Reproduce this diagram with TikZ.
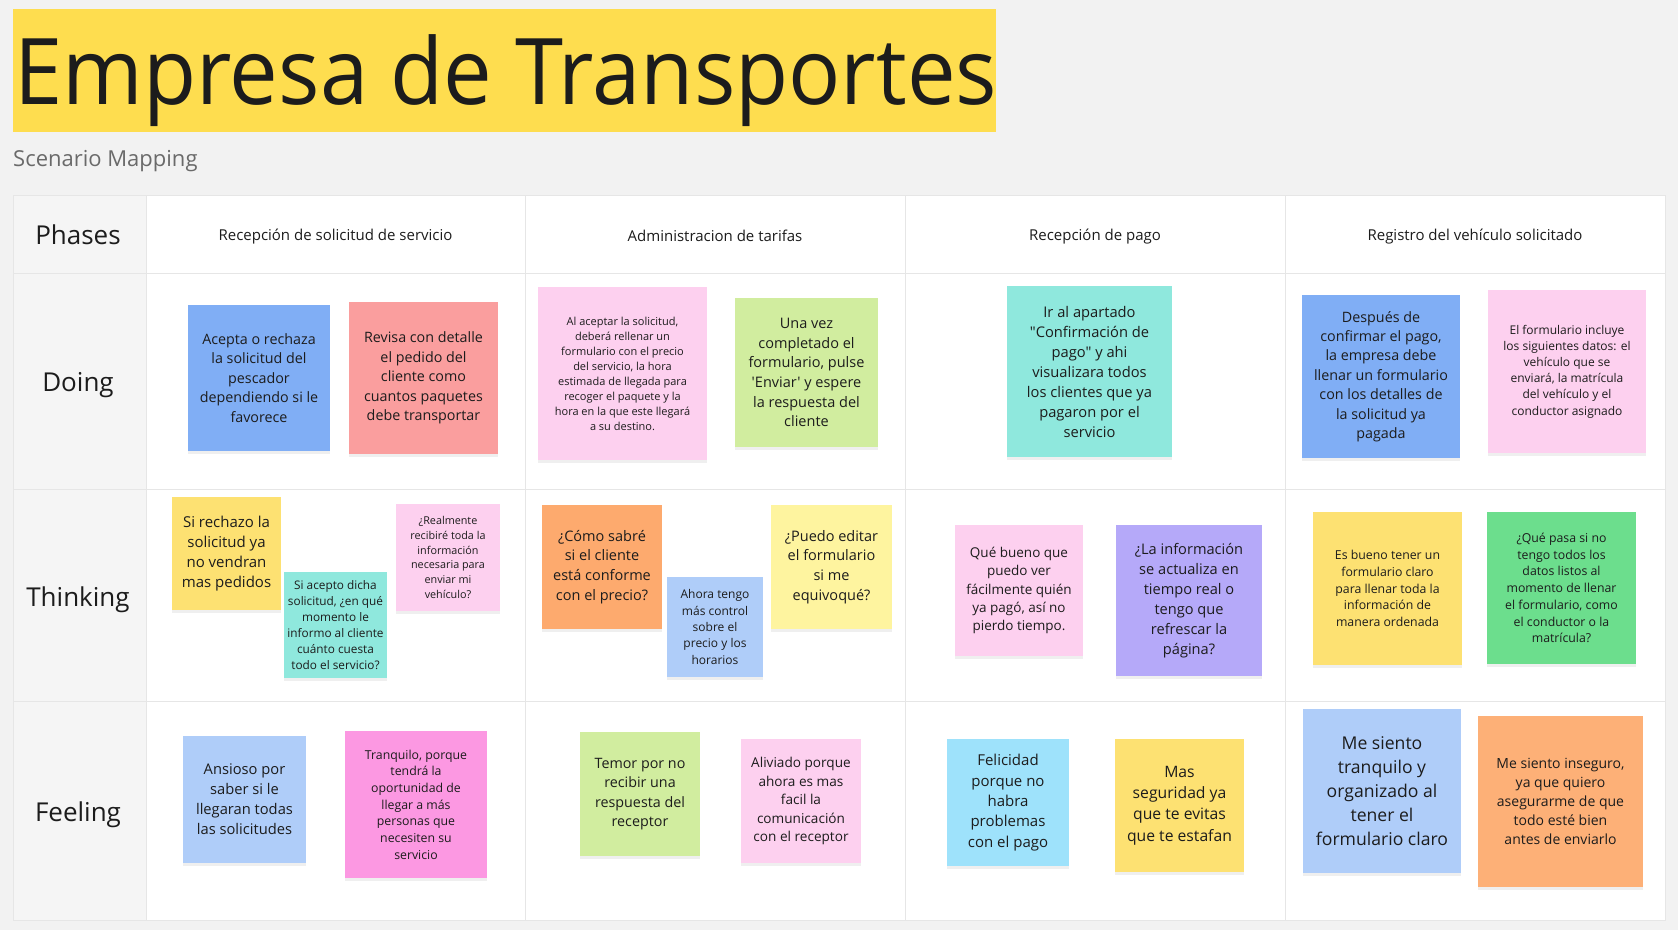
\documentclass[tikz,border=0pt]{standalone}
\usepackage{fontspec}
\setmainfont{Open Sans}[Ligatures=TeXOff]
\usepackage{tikz}
\usetikzlibrary{shadows}

\definecolor{canvas}{HTML}{F2F2F2}
\definecolor{phasecol}{HTML}{F5F5F5}
\definecolor{gridline}{HTML}{E6E6E6}
\definecolor{inkdark}{HTML}{1C1C1C}
\definecolor{inkgrey}{HTML}{6A6A6A}
\definecolor{titleyellow}{HTML}{FEDD4F}
\definecolor{noteblue}{HTML}{80AEF5}
\definecolor{notered}{HTML}{FA9E9E}
\definecolor{notepink}{HTML}{FDD0EF}
\definecolor{notegreen}{HTML}{D1ED9F}
\definecolor{noteteal}{HTML}{8FE8DD}
\definecolor{noteyellow}{HTML}{FDE172}
\definecolor{noteorange}{HTML}{FDAA6E}
\definecolor{notelightblue}{HTML}{AFCDF9}
\definecolor{notelemon}{HTML}{FEF49F}
\definecolor{notepurple}{HTML}{B5A9F9}
\definecolor{notemint}{HTML}{6CDE8D}
\definecolor{notemagenta}{HTML}{FC98E2}
\definecolor{notesky}{HTML}{9EE2FB}
\definecolor{notepeach}{HTML}{FDB077}

\tikzset{
  sticky/.style={align=center, inner sep=0pt, text=inkdark,
    drop shadow={shadow xshift=0pt, shadow yshift=-3pt, opacity=0.12}},
  sz/.style 2 args={font=\fontsize{#1}{#2}\selectfont},
  phaselabel/.style={text=inkdark, font=\fontsize{26}{30}\selectfont},
  colhead/.style={text=inkdark, font=\fontsize{15}{18}\selectfont},
}

\begin{document}
\begin{tikzpicture}[x=1pt, y=-1pt]
  \useasboundingbox[fill=canvas] (0,0) rectangle (1678,930);

  % Title
  \node[fill=titleyellow, minimum width=983, minimum height=123, inner sep=0, anchor=north west] (titlebar) at (13,9) {};
  \node[anchor=base west, inner sep=0, text=inkdark, font=\fontsize{92}{100}\selectfont] (title) at (14,104) {\scalebox{0.943}[1]{Empresa de Transportes}};
  \node[anchor=base west, inner sep=0, text=inkgrey, font=\fontsize{22}{26}\selectfont] (subtitle) at (13,166) {Scenario Mapping};

  % Table
  \fill[white] (146,195) rectangle (1665,920);
  \fill[phasecol] (13,195) rectangle (146,920);
  \draw[gridline, line width=1pt] (13,195) rectangle (1665,920);
  \foreach \x in {146,525,905,1285}
    \draw[gridline, line width=1pt] (\x,195) -- (\x,920);
  \foreach \y in {273,489,701}
    \draw[gridline, line width=1pt] (13,\y) -- (1665,\y);

  % Phase column
  \node[phaselabel] (phases) at (78,235) {Phases};
  \node[phaselabel] (doing) at (78,385) {Doing};
  \node[phaselabel] (thinking) at (78,600) {Thinking};
  \node[phaselabel] (feeling) at (78,815) {Feeling};

  % Column headers
  \node[colhead] (hRecepcion) at (335.5,237) {Recepción de solicitud de servicio};
  \node[colhead] (hTarifas) at (715,236) {Administracion de tarifas};
  \node[colhead] (hPago) at (1095,237) {Recepción de pago};
  \node[colhead] (hRegistro) at (1475,237) {Registro del vehículo solicitado};

  % Doing
  \node[sticky, fill=noteblue, minimum width=142, minimum height=146, sz={14.3}{19.4}] (dAcepta) at (259,378)
    {Acepta o rechaza\\la solicitud del\\pescador\\dependiendo si le\\favorece};
  \node[sticky, fill=notered, minimum width=149, minimum height=152, sz={14.3}{19.4}] (dRevisa) at (423.5,378)
    {Revisa con detalle\\el pedido del\\cliente como\\cuantos paquetes\\debe transportar};
  \node[sticky, fill=notepink, minimum width=169, minimum height=173, sz={11}{15}] (dAceptar) at (622.5,373.5)
    {Al aceptar la solicitud,\\deberá rellenar un\\formulario con el precio\\del servicio, la hora\\estimada de llegada para\\recoger el paquete y la\\hora en la que este llegará\\a su destino.};
  \node[sticky, fill=notegreen, minimum width=143, minimum height=149, sz={14.5}{19.7}] (dUnaVez) at (806.5,372.5)
    {Una vez\\completado el\\formulario, pulse\\'Enviar' y espere\\la respuesta del\\cliente};
  \node[sticky, fill=noteteal, minimum width=165, minimum height=171, sz={14.7}{20}] (dIrAl) at (1089.5,371.5)
    {Ir al apartado\\"Confirmación de\\pago" y ahi\\visualizara todos\\los clientes que ya\\pagaron por el\\servicio};
  \node[sticky, fill=noteblue, minimum width=158, minimum height=163, sz={14.3}{19.4}] (dDespues) at (1381,376.5)
    {Después de\\confirmar el pago,\\la empresa debe\\llenar un formulario\\con los detalles de\\la solicitud ya\\pagada};
  \node[sticky, fill=notepink, minimum width=158, minimum height=163, sz={12}{16.2}] (dFormulario) at (1567,371.5)
    {El formulario incluye\\los siguientes datos: el\\vehículo que se\\enviará, la matrícula\\del vehículo y el\\conductor asignado};

  % Thinking
  \node[sticky, fill=noteyellow, minimum width=109, minimum height=113, sz={15}{20.2}] (tRechazo) at (226.5,553.5)
    {Si rechazo la\\solicitud ya\\no vendran\\mas pedidos};
  \node[sticky, fill=noteteal, minimum width=103, minimum height=106, sz={11.8}{16}] (tAcepto) at (335.5,625)
    {Si acepto dicha\\solicitud, ¿en qué\\momento le\\informo al cliente\\cuánto cuesta\\todo el servicio?};
  \node[sticky, fill=notepink, minimum width=104, minimum height=107, sz={10.8}{14.7}] (tRealmente) at (448,557.5)
    {¿Realmente\\recibiré toda la\\información\\necesaria para\\enviar mi\\vehículo?};
  \node[sticky, fill=noteorange, minimum width=120, minimum height=124, sz={14.5}{19.7}] (tComo) at (602,567)
    {¿Cómo sabré\\si el cliente\\está conforme\\con el precio?};
  \node[sticky, fill=notelightblue, minimum width=96, minimum height=100, sz={12}{16.3}] (tAhora) at (715,627)
    {Ahora tengo\\más control\\sobre el\\precio y los\\horarios};
  \node[sticky, fill=notelemon, minimum width=121, minimum height=124, sz={14.5}{19.7}] (tPuedo) at (831.5,567)
    {¿Puedo editar\\el formulario\\si me\\equivoqué?};
  \node[sticky, fill=notepink, minimum width=128, minimum height=131, sz={13.5}{18.3}] (tQueBueno) at (1019,590.5)
    {Qué bueno que\\puedo ver\\fácilmente quién\\ya pagó, así no\\pierdo tiempo.};
  \node[sticky, fill=notepurple, minimum width=146, minimum height=151, sz={14.6}{19.9}] (tInfo) at (1189,600.5)
    {¿La información\\se actualiza en\\tiempo real o\\tengo que\\refrescar la\\página?};
  \node[sticky, fill=noteyellow, minimum width=149, minimum height=153, sz={12.3}{16.7}] (tEsBueno) at (1387.5,588.5)
    {Es bueno tener un\\formulario claro\\para llenar toda la\\información de\\manera ordenada};
  \node[sticky, fill=notemint, minimum width=149, minimum height=152, sz={12.3}{16.7}] (tQuePasa) at (1561.5,588)
    {¿Qué pasa si no\\tengo todos los\\datos listos al\\momento de llenar\\el formulario, como\\el conductor o la\\matrícula?};

  % Feeling
  \node[sticky, fill=notelightblue, minimum width=123, minimum height=127, sz={14.7}{20}] (fAnsioso) at (244.5,799.5)
    {Ansioso por\\saber si le\\llegaran todas\\las solicitudes};
  \node[sticky, fill=notemagenta, minimum width=142, minimum height=147, sz={12.3}{16.7}] (fTranquilo) at (416,804.5)
    {Tranquilo, porque\\tendrá la\\oportunidad de\\llegar a más\\personas que\\necesiten su\\servicio};
  \node[sticky, fill=notegreen, minimum width=120, minimum height=124, sz={14.3}{19.3}] (fTemor) at (640,794)
    {Temor por no\\recibir una\\respuesta del\\receptor};
  \node[sticky, fill=notepink, minimum width=120, minimum height=124, sz={13.6}{18.5}] (fAliviado) at (801,801)
    {Aliviado porque\\ahora es mas\\facil la\\comunicación\\con el receptor};
  \node[sticky, fill=notesky, minimum width=122, minimum height=127, sz={15}{20.3}] (fFelicidad) at (1008,802.5)
    {Felicidad\\porque no\\habra\\problemas\\con el pago};
  \node[sticky, fill=noteyellow, minimum width=129, minimum height=133, sz={15.7}{21.3}] (fMas) at (1179.5,805.5)
    {Mas\\seguridad ya\\que te evitas\\que te estafan};
  \node[sticky, fill=notelightblue, minimum width=158, minimum height=164, sz={17.6}{24}] (fSiento) at (1382,791)
    {Me siento\\tranquilo y\\organizado al\\tener el\\formulario claro};
  \node[sticky, fill=notepeach, minimum width=165, minimum height=171, sz={14}{19}] (fInseguro) at (1560.5,801.5)
    {Me siento inseguro,\\ya que quiero\\asegurarme de que\\todo esté bien\\antes de enviarlo};
\end{tikzpicture}
\end{document}
